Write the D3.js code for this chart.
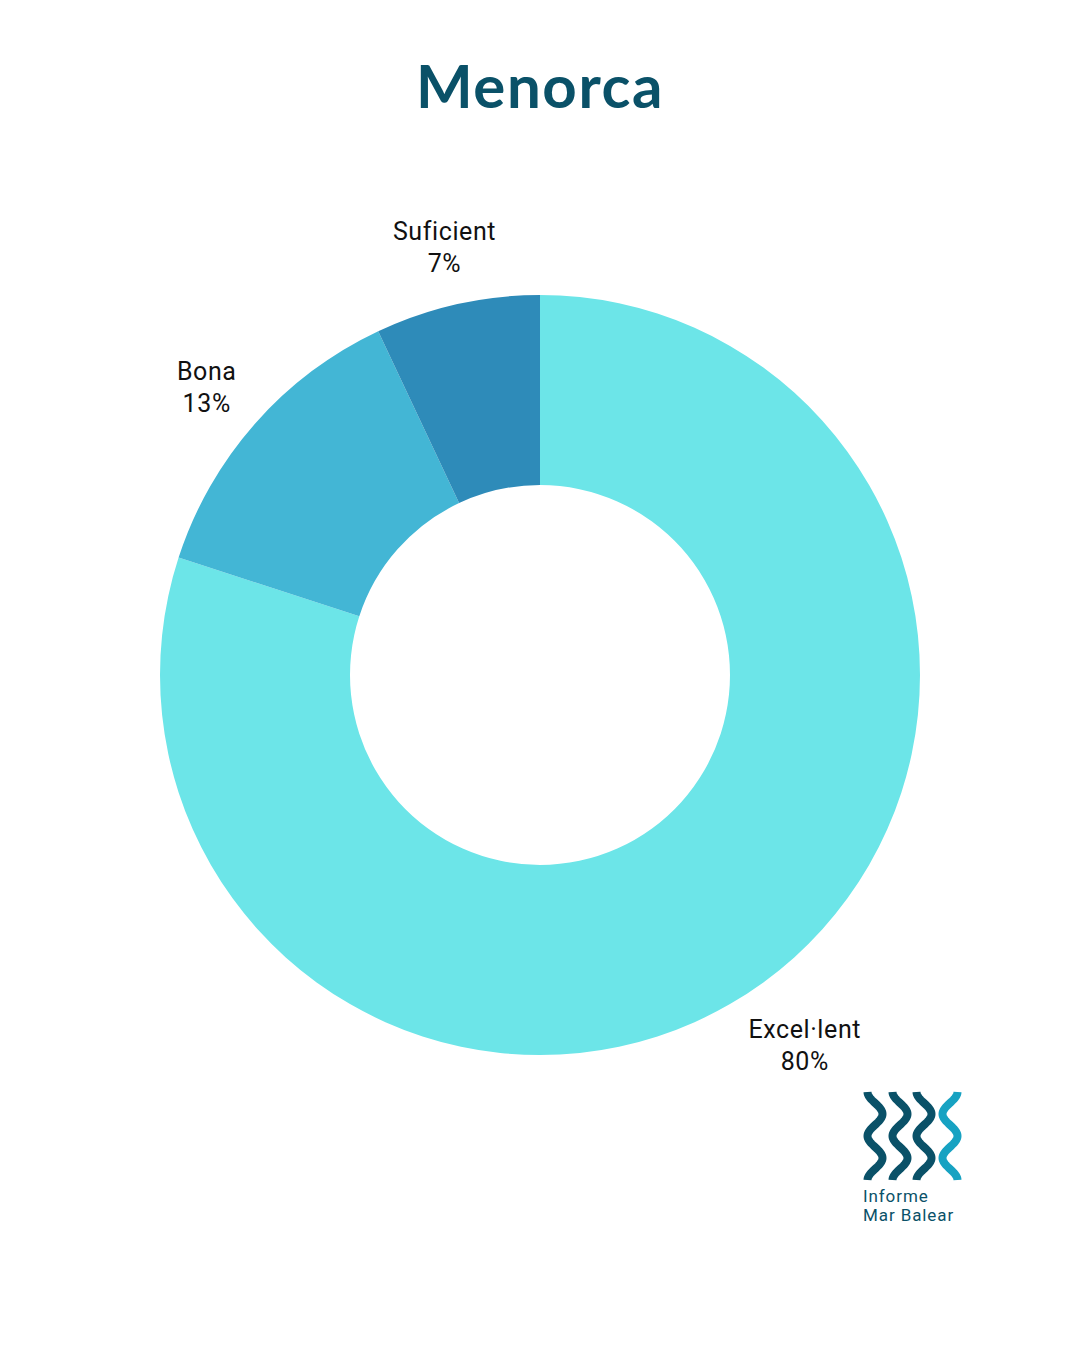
<!DOCTYPE html>
<html>
<head>
<meta charset="utf-8">
<script src="https://cdn.jsdelivr.net/npm/d3@7"></script>
<style>
  body { margin: 0; background: #fff; }
  svg { display: block; }
</style>
</head>
<body>
<div id="chart"></div>
<script>
// chart data
var categories = ["Excel·lent", "Bona", "Suficient"];
var values = [80, 13, 7];
var colors = ["#6ce5e8", "#43b6d5", "#2e8bb9"];

var svgWidth = 1080, svgHeight = 1350;
var cx = 540, cy = 675;
var outerR = 380, innerR = 190, labelR = 447;

var svg = d3.select("#chart")
    .append("svg")
    .attr("width", svgWidth)
    .attr("height", svgHeight);

// title
svg.append("text")
    .attr("x", cx)
    .attr("y", 108)
    .attr("text-anchor", "middle")
    .style("font-family", "Lato, 'Open Sans', sans-serif")
    .style("font-weight", "bold")
    .style("font-size", "60px")
    .style("letter-spacing", "1.6px")
    .style("fill", "#0a5168")
    .text("Menorca");

var data = categories.map(function(c, i) { return { name: c, value: values[i], color: colors[i] }; });

var pie = d3.pie()
    .sort(null)
    .value(function(d) { return d.value; });

var arc = d3.arc()
    .innerRadius(innerR)
    .outerRadius(outerR);

var labelArc = d3.arc()
    .innerRadius(labelR)
    .outerRadius(labelR);

var g = svg.append("g")
    .attr("transform", "translate(" + cx + "," + cy + ")");

var arcs = pie(data);

g.selectAll("path")
    .data(arcs)
    .enter()
    .append("path")
    .attr("d", arc)
    .attr("fill", function(d) { return d.data.color; });

var labels = g.selectAll(".lbl")
    .data(arcs)
    .enter()
    .append("text")
    .attr("class", "lbl")
    .attr("text-anchor", "middle")
    .attr("transform", function(d) { return "translate(" + labelArc.centroid(d) + ")"; })
    .style("font-family", "Roboto, sans-serif")
    .style("font-size", "25px")
    .style("letter-spacing", "0.6px")
    .style("fill", "#111");

labels.append("tspan")
    .attr("x", 2)
    .attr("y", 1)
    .text(function(d) { return d.data.name; });

labels.append("tspan")
    .attr("x", 2)
    .attr("y", 33)
    .text(function(d) { return d.data.value + "%"; });

// logo "Informe Mar Balear"
var logo = svg.append("g").attr("transform", "translate(863,1092)");
var waveX = [12, 37, 61, 87];
var waveCol = ["#0a5168", "#0a5168", "#0a5168", "#17a2c2"];
waveX.forEach(function(x0, i) {
    var dir = i < 3 ? 1 : -1;
    var pts = d3.range(0, 89, 1).map(function(t) {
        return [x0 - dir * 7.5 * Math.cos(t / 88 * Math.PI * 4), t];
    });
    logo.append("path")
        .attr("d", d3.line()(pts))
        .attr("fill", "none")
        .attr("stroke", waveCol[i])
        .attr("stroke-width", 8)
        .attr("stroke-linecap", "butt");
});
logo.append("text")
    .attr("x", 0).attr("y", 110)
    .style("font-family", "Roboto, sans-serif")
    .style("font-size", "17px")
    .style("letter-spacing", "0.9px")
    .style("fill", "#0a5168")
    .text("Informe");
logo.append("text")
    .attr("x", 0).attr("y", 129)
    .style("font-family", "Roboto, sans-serif")
    .style("font-size", "17px")
    .style("letter-spacing", "0.9px")
    .style("fill", "#0a5168")
    .text("Mar Balear");
</script>
</body>
</html>
